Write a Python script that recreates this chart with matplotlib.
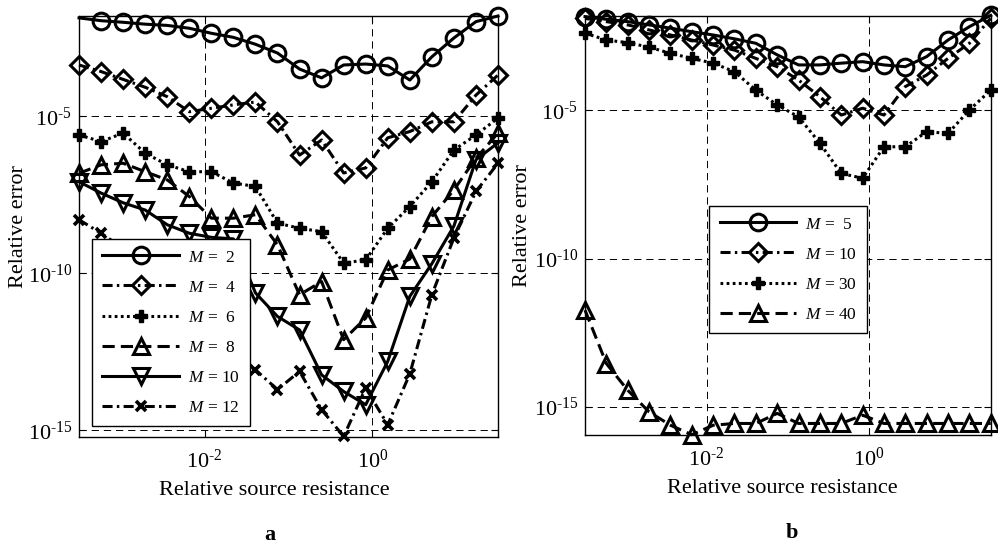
import numpy as np
import matplotlib
matplotlib.use('Agg')
import matplotlib.pyplot as plt

# Fonts: Times-like serif, mathtext in the same face
plt.rcParams['font.family'] = 'serif'
plt.rcParams['font.serif'] = ['Liberation Serif', 'DejaVu Serif']
plt.rcParams['mathtext.fontset'] = 'custom'
plt.rcParams['mathtext.rm'] = 'Liberation Serif'
plt.rcParams['mathtext.it'] = 'Liberation Serif:italic'
plt.rcParams['mathtext.bf'] = 'Liberation Serif:bold'
plt.rcParams['axes.unicode_minus'] = False

# x grid: relative source resistance (20 log-spaced samples)
x = np.logspace(-3.5, 1.5, 20)

# panel a: log10 of relative error
a_m2 = [-1.86, -1.95, -2.00, -2.06, -2.10, -2.19, -2.35, -2.48, -2.70, -2.98,
        -3.49, -3.77, -3.36, -3.33, -3.39, -3.84, -3.10, -2.50, -1.98, -1.80]
a_m4 = [-3.36, -3.57, -3.82, -4.07, -4.37, -4.85, -4.74, -4.63, -4.54, -5.17,
        -6.23, -5.75, -6.80, -6.64, -5.68, -5.48, -5.17, -5.17, -4.32, -3.68]
a_m6 = [-5.59, -5.80, -5.53, -6.17, -6.54, -6.76, -6.76, -7.12, -7.23, -8.40,
        -8.56, -8.67, -9.67, -9.57, -8.56, -7.87, -7.08, -6.07, -5.59, -5.05]
a_m8 = [-6.81, -6.54, -6.49, -6.76, -7.02, -7.55, -8.24, -8.24, -8.13, -9.09,
        -10.68, -10.26, -12.11, -11.42, -9.89, -9.54, -8.19, -7.34, -6.33, -5.53]
a_m10 = [-7.08, -7.44, -7.75, -7.98, -8.45, -8.72, -8.85, -8.90, -10.62, -11.37,
         -11.80, -13.23, -13.76, -14.18, -12.80, -10.73, -9.69, -8.49, -6.38, -5.84]
a_m12 = [-8.29, -8.72, -9.20, -9.70, -10.30, -11.00, -11.80, -12.70, -13.07, -13.70,
         -13.12, -14.34, -15.19, -13.65, -14.82, -13.20, -10.68, -8.87, -7.39, -6.49]
a_labels = ['$M$ =  2', '$M$ =  4', '$M$ =  6', '$M$ =  8', '$M$ = 10', '$M$ = 12']

# panel b: log10 of relative error
b_m5 = [-1.84, -1.93, -2.01, -2.12, -2.23, -2.35, -2.46, -2.59, -2.74, -3.13,
        -3.47, -3.47, -3.41, -3.36, -3.47, -3.53, -3.19, -2.63, -2.18, -1.80]
b_m10 = [-1.90, -2.01, -2.12, -2.29, -2.46, -2.63, -2.80, -2.97, -3.25, -3.53,
         -3.98, -4.54, -5.16, -4.93, -5.16, -4.20, -3.81, -3.25, -2.74, -1.90]
b_m30 = [-2.40, -2.63, -2.72, -2.87, -3.08, -3.25, -3.41, -3.70, -4.32, -4.82,
         -5.22, -6.11, -7.13, -7.29, -6.23, -6.23, -5.72, -5.78, -4.99, -4.32]
b_m40 = [-11.74, -13.54, -14.44, -15.17, -15.62, -15.94, -15.62, -15.56, -15.56, -15.22,
         -15.56, -15.56, -15.56, -15.28, -15.56, -15.56, -15.56, -15.56, -15.56, -15.56]
b_labels = ['$M$ =  5', '$M$ = 10', '$M$ = 30', '$M$ = 40']

# tick positions and labels (hyphen minus like the original)
x_ticks = [1e-2, 1e0]
x_ticklabels = [r'$10^{\text{-2}}$', r'$10^{\text{0}}$']
y_ticks = [1e-15, 1e-10, 1e-5]
y_ticklabels = [r'$10^{\text{-15}}$', r'$10^{\text{-10}}$', r'$10^{\text{-5}}$']

# line styles
solid = '-'
dashdot = (0, (3.3, 1.4, 0.8, 1.4))
dotted = (0, (0.9, 1.1))
dashed = (0, (4, 2))

a_styles = [(solid, 'o'), (dashdot, 'D'), (dotted, 'P'), (dashed, '^'), (solid, 'v'), (dashdot, 'x')]
b_styles = [(solid, 'o'), (dashdot, 'D'), (dotted, 'P'), (dashed, '^')]


def marker_kw(m):
    if m == 'P':
        return dict(markersize=9, markerfacecolor='k', markeredgewidth=1)
    if m == 'x':
        return dict(markersize=7, markeredgewidth=2.6)
    if m == 'D':
        return dict(markersize=9.5, markerfacecolor='none', markeredgewidth=2.2)
    return dict(markersize=12, markerfacecolor='none', markeredgewidth=2.2)


def style_axes(ax, ylim, xlab_x, ylab_x):
    ax.set_xscale('log')
    ax.set_yscale('log')
    ax.set_xlim(10 ** -3.5, 10 ** 1.5)
    ax.set_ylim(10 ** ylim[0], 10 ** ylim[1])
    ax.set_xticks(x_ticks)
    ax.set_xticklabels(x_ticklabels)
    ax.set_yticks(y_ticks)
    ax.set_yticklabels(y_ticklabels)
    ax.minorticks_off()
    ax.tick_params(direction='in', length=5, width=0.8, labelsize=16,
                   top=True, right=True)
    ax.tick_params(axis='x', pad=9)
    ax.tick_params(axis='y', pad=5)
    ax.grid(True, color='k', linestyle=(0, (7.5, 5)), linewidth=0.7)
    for s in ax.spines.values():
        s.set_linewidth(1.0)
    ax.set_xlabel('Relative source resistance', fontsize=16)
    ax.set_ylabel('Relative error', fontsize=16)
    ax.xaxis.set_label_coords(xlab_x, -0.105)
    ax.yaxis.set_label_coords(ylab_x, 0.5)


def add_legend(ax, anchor):
    leg = ax.legend(loc='upper left', bbox_to_anchor=anchor, borderaxespad=0,
                    fontsize=12.5, handlelength=4.4, handletextpad=0.5,
                    borderpad=0.6, labelspacing=0.8, frameon=True,
                    fancybox=False, framealpha=1)
    leg.get_frame().set_edgecolor('k')
    leg.get_frame().set_linewidth(1.0)
    leg.set_zorder(5)
    return leg


fig = plt.figure(figsize=(9.98, 5.46), dpi=100)
ax1 = fig.add_axes([0.0792, 0.2002, 0.4198, 0.7705])
ax2 = fig.add_axes([0.5862, 0.2027, 0.4065, 0.768])

# panel a
a_series = [a_m2, a_m4, a_m6, a_m8, a_m10, a_m12]
for vals, (ls, mk), lab in zip(a_series, a_styles, a_labels):
    kw = marker_kw(mk)
    every = range(1, 20) if vals is a_m2 else None
    ax1.plot(x, 10 ** np.array(vals), color='k', linestyle=ls, linewidth=2.2,
             marker=mk, markeredgecolor='k', markevery=every, label=lab,
             clip_on=False, **kw)

style_axes(ax1, (-15.2, -1.8), 0.465, -0.122)
add_legend(ax1, (0.031, 0.47))

# panel b
b_series = [b_m5, b_m10, b_m30, b_m40]
for vals, (ls, mk), lab in zip(b_series, b_styles, b_labels):
    kw = marker_kw(mk)
    ax2.plot(x, 10 ** np.array(vals), color='k', linestyle=ls, linewidth=2.2,
             marker=mk, markeredgecolor='k', label=lab, clip_on=False, **kw)

style_axes(ax2, (-15.96, -1.82), 0.487, -0.131)
add_legend(ax2, (0.306, 0.547))

# panel letters
fig.text(270 / 998, 1 - 535 / 546, 'a', fontsize=16, fontweight='bold', ha='center', va='center')
fig.text(792 / 998, 1 - 533 / 546, 'b', fontsize=16, fontweight='bold', ha='center', va='center')

fig.savefig('out.png', dpi=100)
